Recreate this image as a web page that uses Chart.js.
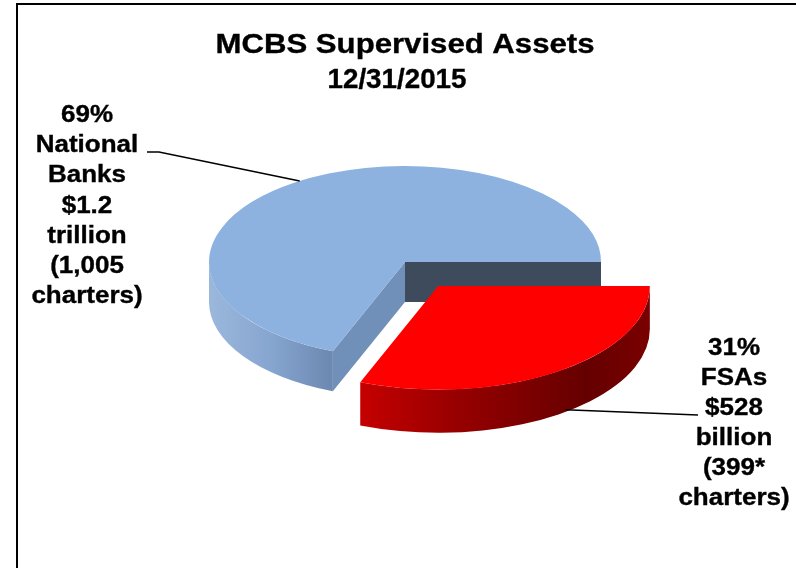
<!DOCTYPE html>
<html><head><meta charset="utf-8">
<script src="https://cdn.jsdelivr.net/npm/chart.js@4/dist/chart.umd.min.js"></script>
<style>html,body{margin:0;padding:0;background:#fff;}#wrap{width:796px;height:568px;position:relative;}</style>
</head><body><div id="wrap"><canvas id="c" width="796" height="568"></canvas></div>
<script>
// ---- data ----
const categories = ['FSAs', 'National Banks'];
const shares = [31, 69];
const assets = ['$528 billion', '$1.2 trillion'];
const charters = ['(399* charters)', '(1,005 charters)'];
const titleLines = ['MCBS Supervised Assets', '12/31/2015'];

// ---- styles ----
const TOP_COLORS = ['#FF0000', '#8DB2E0'];
const WALL_STOPS = [
  [[0.30, '#C80000'], [0.55, '#960000'], [0.85, '#650000'], [1, '#7A0000']],
  [[0, '#9BB7DC'], [0.16, '#86A5CF'], [0.32, '#6A87AF'], [1, '#6A87AF']]
];
const FACE_START = ['#8A0000', '#7090BA'];
const FACE_END = ['#8A0000', '#3D4B5D'];
const GEO = {cx: 405, cy: 262, rx: 196, ry: 96, depth: 40};
const EXPLODE = [59, 0];
const GROW = [1.08, 1];
const FONT = '"Liberation Sans", Arial, sans-serif';

function sliceGeo(arc, i) {
  const h = (arc.startAngle + arc.endAngle) / 2;
  const k = GEO.ry / GEO.rx;
  const s = GEO.rx * GROW[i] / arc.outerRadius;
  return {
    h, k, s,
    tx: GEO.cx + Math.cos(h) * EXPLODE[i],
    ty: GEO.cy + Math.sin(h) * EXPLODE[i] * k,
    d: GEO.depth * GROW[i] / (s * k)
  };
}
function applyT(ctx, arc, g) {
  ctx.translate(g.tx, g.ty);
  ctx.scale(g.s, g.s * g.k);
  ctx.translate(-arc.x, -arc.y);
}
function drawWalls(ctx, arc, i, g) {
  const x = arc.x, y = arc.y, R = arc.outerRadius, d = g.d;
  const a1 = arc.startAngle, a2 = arc.endAngle;
  const face = (a, col) => {
    ctx.beginPath();
    ctx.moveTo(x, y);
    ctx.lineTo(x + R * Math.cos(a), y + R * Math.sin(a));
    ctx.lineTo(x + R * Math.cos(a), y + R * Math.sin(a) + d);
    ctx.lineTo(x, y + d);
    ctx.closePath();
    ctx.fillStyle = col;
    ctx.fill();
  };
  if (Math.cos(a2) > 0) face(a2, FACE_END[i]);
  if (Math.cos(a1) < 0) face(a1, FACE_START[i]);
  const grad = ctx.createLinearGradient(x - R, 0, x + R, 0);
  WALL_STOPS[i].forEach(s => grad.addColorStop(s[0], s[1]));
  for (let n = -1; n <= 2; n++) {
    const lo = Math.max(a1, 2 * Math.PI * n), hi = Math.min(a2, 2 * Math.PI * n + Math.PI);
    if (hi - lo > 1e-4) {
      ctx.beginPath();
      ctx.arc(x, y, R, lo, hi);
      ctx.arc(x, y + d, R, hi, lo, true);
      ctx.closePath();
      ctx.fillStyle = grad;
      ctx.fill();
    }
  }
}

const pie3d = {
  id: 'pie3d',
  beforeDatasetDraw(chart, args) {
    const ctx = chart.ctx;
    const arcs = args.meta.data;
    const order = arcs.map((a, i) => i).sort((p, q) =>
      Math.sin((arcs[p].startAngle + arcs[p].endAngle) / 2) - Math.sin((arcs[q].startAngle + arcs[q].endAngle) / 2));
    order.forEach(i => {
      const g = sliceGeo(arcs[i], i);
      ctx.save(); applyT(ctx, arcs[i], g); drawWalls(ctx, arcs[i], i, g); ctx.restore();
      ctx.save(); applyT(ctx, arcs[i], g); arcs[i].draw(ctx); ctx.restore();
    });
    return false;
  }
};

function stretchText(ctx, text, cx, by, font, sx) {
  ctx.save();
  ctx.font = font;
  ctx.translate(cx, by);
  ctx.scale(sx, 1);
  ctx.textAlign = 'center';
  ctx.textBaseline = 'alphabetic';
  ctx.fillText(text, 0, 0);
  ctx.lineWidth = 0.35;
  ctx.strokeStyle = '#000';
  ctx.strokeText(text, 0, 0);
  ctx.restore();
}
function fitText(ctx, text, cx, by, font, w) {
  ctx.save(); ctx.font = font; const m = ctx.measureText(text).width; ctx.restore();
  stretchText(ctx, text, cx, by, font, w / m);
}
function screenPoint(arc, i, a, df) {
  const g = sliceGeo(arc, i);
  return [g.tx + GEO.rx * GROW[i] * Math.cos(a), g.ty + GEO.ry * GROW[i] * Math.sin(a) + GEO.depth * GROW[i] * df];
}

const annot = {
  id: 'annot',
  afterDraw(chart) {
    const ctx = chart.ctx;
    const arcs = chart.getDatasetMeta(0).data;
    ctx.save();
    ctx.fillStyle = '#000';
    ctx.fillRect(16, 3, 780, 2);
    ctx.fillRect(16, 3, 2, 565);
    // title
    const tf = 'bold 27px ' + FONT;
    fitText(ctx, titleLines[0], 405, 53, tf, 379);
    fitText(ctx, titleLines[1], 397, 88, tf, 139);
    // labels
    const lf = 'bold 23px ' + FONT;
    const pos = [{x: 734, y: 355, dy: 30}, {x: 87, y: 122, dy: 30.2}];
    categories.forEach((c, i) => {
      const lines = [shares[i] + '%'].concat(c.split(' '), assets[i].split(' '), charters[i].split(' '));
      lines.forEach((t, j) => stretchText(ctx, t, pos[i].x, pos[i].y + j * pos[i].dy, lf, 1.13));
    });
    // leader lines
    ctx.strokeStyle = '#000';
    ctx.lineWidth = 1.6;
    const pL = screenPoint(arcs[1], 1, 237.5 * Math.PI / 180, 0);
    ctx.beginPath();
    ctx.moveTo(147, 152); ctx.lineTo(159, 152); ctx.lineTo(pL[0], pL[1]);
    ctx.stroke();
    const pR = screenPoint(arcs[0], 0, 53 * Math.PI / 180, 0.95);
    ctx.beginPath();
    ctx.moveTo(pR[0], pR[1]); ctx.lineTo(698, 415);
    ctx.stroke();
    ctx.restore();
  }
};

new Chart(document.getElementById('c'), {
  type: 'pie',
  data: {
    labels: categories,
    datasets: [{
      data: shares,
      backgroundColor: TOP_COLORS,
      borderWidth: 0,
      hoverOffset: 0,
      offset: 0,
      clip: false
    }]
  },
  options: {
    responsive: false,
    animation: false,
    events: [],
    rotation: 90,
    layout: {padding: 20},
    plugins: {legend: {display: false}, title: {display: false}, tooltip: {enabled: false}}
  },
  plugins: [pie3d, annot]
});
</script>
</body></html>
